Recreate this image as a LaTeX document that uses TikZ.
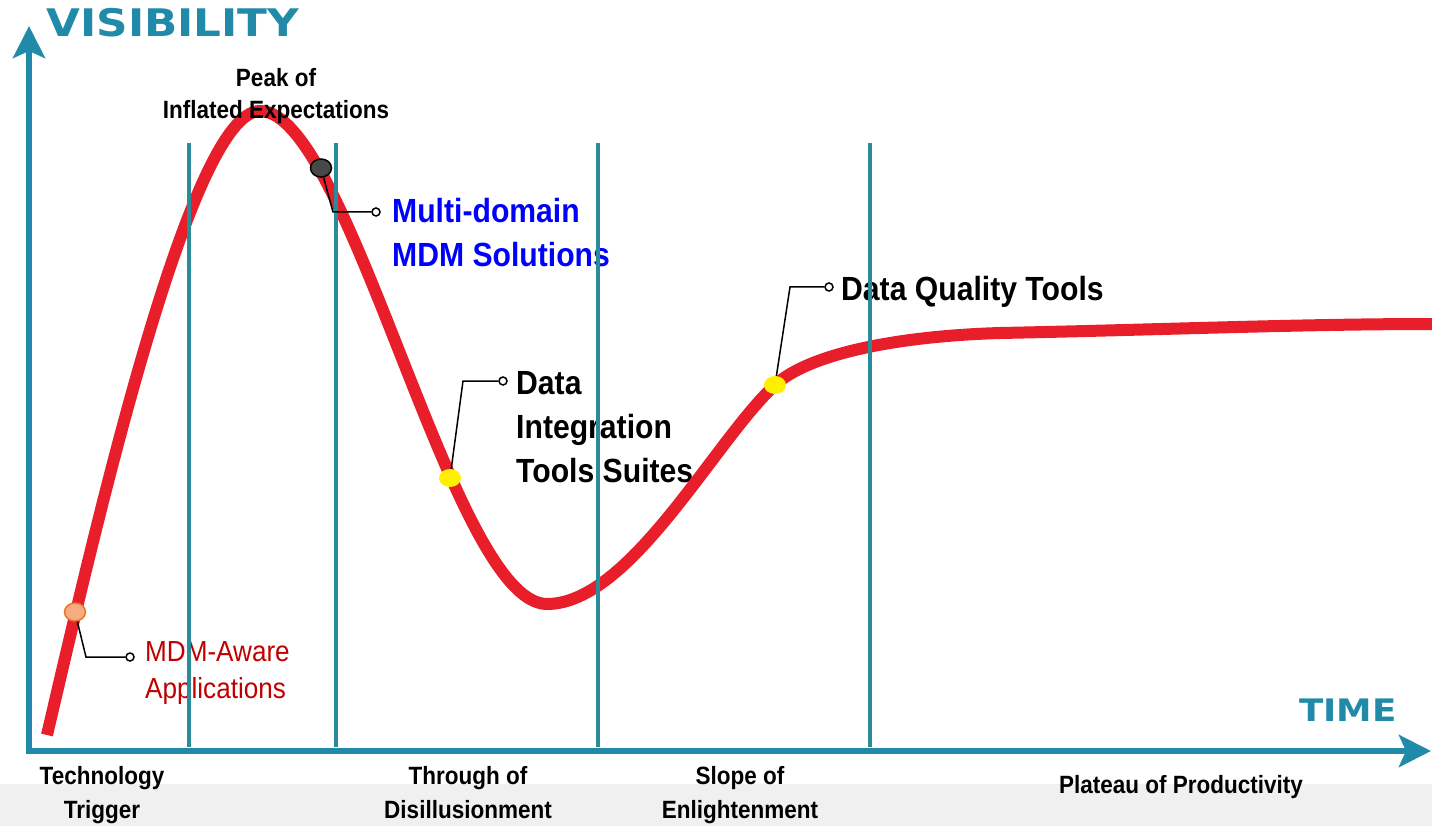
\documentclass[tikz,border=0pt]{standalone}
\usepackage{fontspec}
\setmainfont{Liberation Sans}
\newfontfamily\narrowfont{Liberation Sans}[FakeStretch=0.9]
\newfontfamily\axisfont{DejaVu Sans}[FakeStretch=1.15]
\usepackage{tikz}
\usetikzlibrary{shapes.geometric,arrows.meta,positioning}
\definecolor{axisteal}{RGB}{32,138,168}
\definecolor{phaseteal}{RGB}{42,140,152}
\definecolor{hypered}{RGB}{232,30,42}
\definecolor{mdmred}{RGB}{192,0,0}
\definecolor{mdmblue}{RGB}{0,0,255}
\definecolor{dotorange}{RGB}{246,172,128}
\definecolor{dotedge}{RGB}{232,118,36}
\definecolor{dotgray}{RGB}{72,72,72}
\definecolor{dotyellow}{RGB}{255,240,0}
\definecolor{bggray}{RGB}{240,240,240}

\begin{document}
\begin{tikzpicture}[x=1pt, y=-1pt, every node/.style={inner sep=0pt, align=center},
    stage/.style={font=\narrowfont\bfseries\fontsize{25}{34}\selectfont},
    tech/.style={anchor=west, align=left, font=\narrowfont\bfseries\fontsize{33.5}{44}\selectfont},
    axislabel/.style={text=axisteal, font=\axisfont\bfseries},
    marker/.style={ellipse, minimum width=21pt, minimum height=18pt},
    tip/.style={circle, draw, fill=white, line width=1.5pt, minimum size=8pt},
    leader/.style={line width=1.5pt},
    hype/.style={hypered, line width=12pt},
    axis/.style={axisteal, line width=6pt},
    phase/.style={phaseteal, line width=4pt}]
    \useasboundingbox (0,0) rectangle (1432,826);
    \fill[bggray] (0,784) rectangle (1432,826);

    \node [axislabel, font=\axisfont\bfseries\fontsize{38}{38}\selectfont] (vis) at (173,23) {VISIBILITY};
    \node [axislabel, font=\axisfont\bfseries\fontsize{31}{31}\selectfont] (time) at (1348,710) {TIME};

    \node [stage] (trigger) at (102,795.5) {Technology\\Trigger};
    \node [stage] (trough) at (468,793) {Through of\\Disillusionment};
    \node [stage] (slope) at (740,795.5) {Slope of\\Enlightenment};
    \node [stage] (plateau) at (1181,787.5) {Plateau of Productivity};

    \node [tech, text=mdmblue] (multi) at (392,233) {Multi-domain\\MDM Solutions};
    \node [tech] (integ) at (516,427) {Data\\Integration\\Tools Suites};
    \node [tech] (quality) at (841,292) {Data Quality Tools};
    \node [tech, text=mdmred, font=\narrowfont\fontsize{29}{37}\selectfont] (aware) at (145,673) {MDM-Aware\\Applications};

    \draw [hype] (47,735) .. controls (95,530) and (190,111) .. (260,111)
        .. controls (350,111) and (452,604) .. (547,604)
        .. controls (630,604) and (715,440) .. (775,385)
        .. controls (810,353) and (900,336) .. (1000,333)
        .. controls (1150,330) and (1300,324) .. (1432,324);
    \node [stage, font=\narrowfont\bfseries\fontsize{25}{32}\selectfont] (peak) at (276,96.5) {Peak of\\Inflated Expectations};

    \foreach \x in {189,336,598,870}
        \draw [phase] (\x,143) -- (\x,747);
    \draw [axis, {Stealth[length=32pt, width=32pt, inset=7pt]}-{Stealth[length=32pt, width=32pt, inset=7pt]}, line join=miter] (29,26) -- (29,751) -- (1431,751);

    \node [marker, fill=dotorange, draw=dotedge, line width=1.5pt] (dotMA) at (75,612) {};
    \node [marker, fill=dotgray, draw=black, line width=1.5pt] (dotMS) at (321,168) {};
    \node [marker, fill=dotyellow, minimum width=22pt] (dotDI) at (450,478) {};
    \node [marker, fill=dotyellow, minimum width=22pt] (dotDQ) at (775,385) {};

    \node [tip] (tipMA) at (130,657) {};
    \node [tip] (tipMS) at (376,212) {};
    \node [tip] (tipDI) at (503,381) {};
    \node [tip] (tipDQ) at (829,287) {};
    \coordinate (bendMA) at (86,657);
    \coordinate (bendMS) at (333,212);
    \coordinate (bendDI) at (463,381);
    \coordinate (bendDQ) at (790,287);

    \draw [leader] (dotMA) -- (bendMA) -- (tipMA);
    \draw [leader] (dotMS) -- (bendMS) -- (tipMS);
    \draw [leader] (dotDI) -- (bendDI) -- (tipDI);
    \draw [leader] (dotDQ) -- (bendDQ) -- (tipDQ);
\end{tikzpicture}
\end{document}
